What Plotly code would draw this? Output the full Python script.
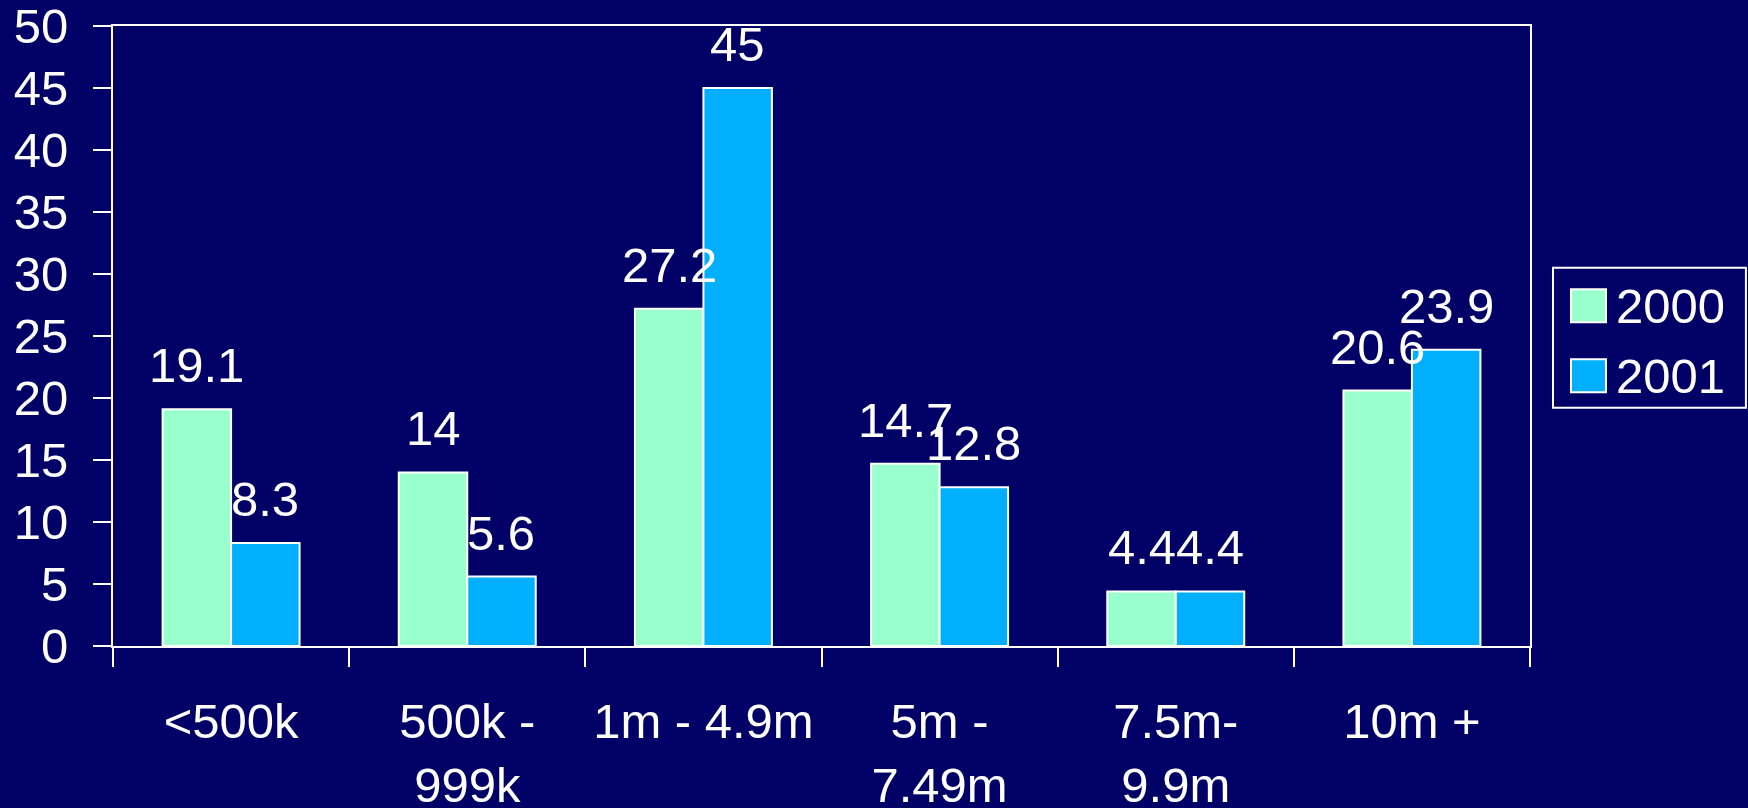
import plotly.graph_objects as go

# Deal size bands (line breaks as shown on the axis)
categories = ["<500k", "500k -<br>999k", "1m - 4.9m", "5m -<br>7.49m", "7.5m-<br>9.9m", "10m +"]
series_names = ["2000", "2001"]
values_2000 = [19.1, 14, 27.2, 14.7, 4.4, 20.6]
values_2001 = [8.3, 5.6, 45, 12.8, 4.4, 23.9]
y_ticks = [0, 5, 10, 15, 20, 25, 30, 35, 40, 45, 50]

BG = "#000066"
COLORS = ["#99FFCC", "#00B0FF"]
FONT = "Liberation Sans, Arial, sans-serif"
FS = 49
BARGAP = 0.42

W, H = 1748, 808
M_L, M_R, M_T, M_B = 112.5, 218, 26, 161.5

fig = go.Figure()
for name, vals, col in zip(series_names, [values_2000, values_2001], COLORS):
    fig.add_trace(go.Bar(
        x=categories, y=vals, name=name,
        marker=dict(color=col, line=dict(color="white", width=2)),
        showlegend=False,
    ))

# value labels above each bar
half = (1 - BARGAP) / 4
annotations = []
for k, vals in enumerate([values_2000, values_2001]):
    shift = -half if k == 0 else half
    for i, v in enumerate(vals):
        annotations.append(dict(
            x=i + shift, y=v, xref="x", yref="y",
            text=f"{v:g}", showarrow=False,
            xanchor="center", yanchor="bottom", yshift=15,
            font=dict(family=FONT, size=FS, color="white"),
        ))

# legend box drawn in paper space
pw = W - M_L - M_R
ph = H - M_T - M_B


def px_x(p):
    return (p - M_L) / pw


def px_y(p):
    return (H - M_B - p) / ph


shapes = [dict(type="rect", xref="paper", yref="paper",
               x0=px_x(1553), x1=px_x(1746), y0=px_y(408), y1=px_y(268),
               line=dict(color="white", width=2), fillcolor=BG, layer="above")]
legend_rows = [306, 376]
for name, col, cy in zip(series_names, COLORS, legend_rows):
    shapes.append(dict(type="rect", xref="paper", yref="paper",
                       x0=px_x(1571), x1=px_x(1606), y0=px_y(cy + 16.5), y1=px_y(cy - 16.5),
                       line=dict(color="white", width=2), fillcolor=col, layer="above"))
    annotations.append(dict(
        x=px_x(1614), y=px_y(cy), xref="paper", yref="paper",
        text=name, showarrow=False, xanchor="left", yanchor="middle",
        font=dict(family=FONT, size=FS, color="white"),
    ))

fig.update_layout(
    width=W, height=H,
    margin=dict(l=M_L, r=M_R, t=M_T, b=M_B, pad=0, autoexpand=False),
    paper_bgcolor=BG, plot_bgcolor=BG,
    barmode="group", bargap=BARGAP, bargroupgap=0,
    font=dict(family=FONT, size=FS, color="white"),
    shapes=shapes, annotations=annotations,
    showlegend=False,
)
fig.update_xaxes(
    type="category", showline=True, linecolor="white", linewidth=2, mirror=True,
    ticks="outside", tickson="boundaries", ticklen=19, tickwidth=2, tickcolor="white",
    showgrid=False, zeroline=False, ticklabelstandoff=31, automargin=False,
    ticklabeloverflow="allow",
    tickfont=dict(family=FONT, size=FS, color="white"),
)
fig.update_yaxes(
    range=[0, 50], tickvals=y_ticks, showline=True, linecolor="white", linewidth=2, mirror=True,
    ticks="outside", ticklen=18, tickwidth=2, tickcolor="white",
    showgrid=False, zeroline=False, ticklabelstandoff=15, automargin=False,
    ticklabeloverflow="allow",
    tickfont=dict(family=FONT, size=FS, color="white"),
)

fig.write_html("out.html")
